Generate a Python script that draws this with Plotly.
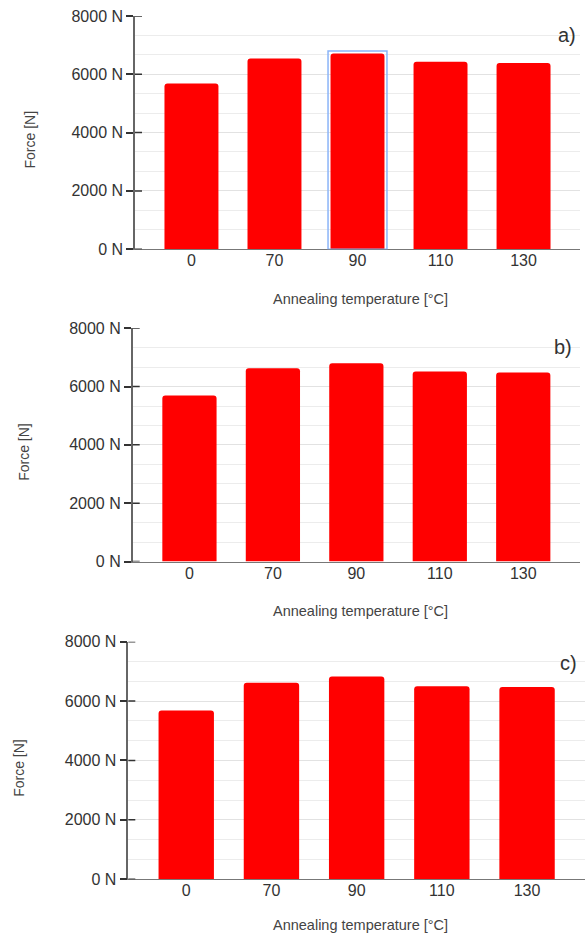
import plotly.graph_objects as go

temps = ["0", "70", "90", "110", "130"]
force_a = [5685, 6540, 6710, 6425, 6385]
force_b = [5695, 6630, 6800, 6515, 6480]
force_c = [5685, 6615, 6825, 6500, 6470]
panel_labels = ["a)", "b)", "c)"]
y_ticks = [0, 2000, 4000, 6000, 8000]
y_ticktext = [f"{v} N" for v in y_ticks]
x_title = "Annealing temperature [°C]"
y_title = "Force [N]"

W, H = 588, 940
# target pixel geometry (left, right, top, bottom) of each panel
panels = [(135, 580, 15, 249), (132.7, 580, 328.3, 562.3), (128.3, 585, 642.7, 881)]
series = [force_a, force_b, force_c]
lab_positions = [(566.5, 34), (562.5, 346.7), (568.5, 664)]
ytitle_positions = [(30, 139), (23.3, 452), (18.3, 769)]
xtitle_y = [299, 611.5, 931]

# vertical compensation for the capture pipeline (content appears ~1.5% compressed about the centre)
VS = 0.985


def px(x):
    return x / W


def py(y, clamp=None):
    yc = H / 2 + (y - H / 2) / VS
    if clamp is not None:
        yc = min(yc, clamp)
    return 1 - yc / H


FONT = "Liberation Sans, Arial, sans-serif"
fig = go.Figure()
annotations = []
shapes = []

for i, ((l, r, t, b), vals, lab) in enumerate(zip(panels, series, panel_labels)):
    n = "" if i == 0 else str(i + 1)
    xa, ya = "x" + n, "y" + n
    fig.add_trace(go.Bar(
        x=temps, y=vals, xaxis=xa, yaxis=ya,
        marker=dict(color="#ff0000", line=dict(width=0), cornerradius=3),
        showlegend=False, hoverinfo="x+y",
    ))
    fig.layout["xaxis" + n] = dict(
        domain=[px(l), px(r)], anchor=ya, type="category", range=[-0.68, 4.68],
        showline=True, linecolor="#777", linewidth=1, ticks="",
        showgrid=False, zeroline=False, ticklabelstandoff=-3,
        tickfont=dict(family=FONT, size=16, color="#333"),
        fixedrange=True,
    )
    fig.layout["yaxis" + n] = dict(
        domain=[py(b), py(t)], anchor=xa, range=[0, 8000],
        tickvals=y_ticks, ticktext=y_ticktext,
        showline=True, linecolor="#666", linewidth=1.5,
        ticks="outside", ticklen=7, tickcolor="#333", tickwidth=1.5,
        showgrid=True, gridcolor="#e2e2e2", gridwidth=1,
        minor=dict(dtick=2000 / 3, tick0=0, showgrid=True, gridcolor="#ececec", gridwidth=1, ticks=""),
        zeroline=False,
        tickfont=dict(family=FONT, size=16, color="#333"),
        fixedrange=True,
    )
    for v in y_ticks:
        shapes.append(dict(type="line", xref=xa + " domain", yref=ya,
                           x0=0, x1=7 / (r - l), y0=v, y1=v,
                           line=dict(color="#333", width=1.5)))
    annotations.append(dict(text=x_title, xref="paper", yref="paper",
                            x=px(360.5), y=py(xtitle_y[i], clamp=933.5), showarrow=False,
                            xanchor="center", yanchor="middle",
                            font=dict(family=FONT, size=14.5, color="#444")))
    lx, ly = lab_positions[i]
    annotations.append(dict(text=lab, xref="paper", yref="paper",
                            x=px(lx), y=py(ly), showarrow=False,
                            xanchor="center", yanchor="middle",
                            font=dict(family=FONT, size=20, color="#333")))
    tx, ty = ytitle_positions[i]
    annotations.append(dict(text=y_title, xref="paper", yref="paper",
                            x=px(tx), y=py(ty), showarrow=False,
                            textangle=-90, xanchor="center", yanchor="middle",
                            font=dict(family=FONT, size=14, color="#444")))

sel_idx = 2
shapes.append(dict(type="rect", xref="x", yref="y",
                   x0=sel_idx - 0.355, x1=sel_idx + 0.355,
                   y0=0, y1=force_a[sel_idx] + 90,
                   line=dict(color="#8ab4f8", width=1.5), fillcolor="rgba(0,0,0,0)",
                   layer="above"))

fig.update_layout(
    width=W, height=H,
    margin=dict(l=0, r=0, t=0, b=0),
    paper_bgcolor="white", plot_bgcolor="white",
    bargap=0.35,
    annotations=annotations, shapes=shapes,
    font=dict(family=FONT),
)

fig.write_html(
    "out.html",
    config={"displayModeBar": False},
    post_script="document.body.style.margin='0';document.body.style.overflow='hidden';",
)
